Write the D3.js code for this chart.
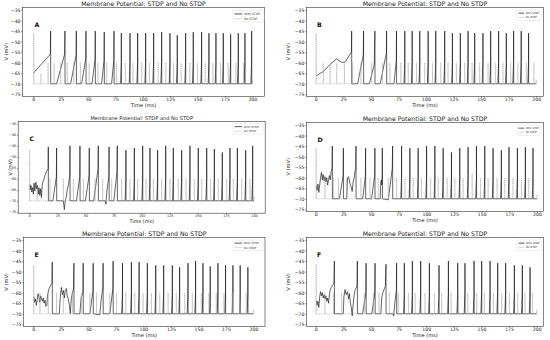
<!DOCTYPE html>
<html><head><meta charset="utf-8">
<script src="https://cdn.jsdelivr.net/npm/d3@7"></script>
<style>body{margin:0;background:#fff}svg{display:block}</style>
</head><body><svg id="c" width="550" height="340"></svg>
<script>
const xTicks = [0,25,50,75,100,125,150,175,200];
const yTicks = [-35,-40,-45,-50,-55,-60,-65,-70,-75];
const panelLetters = ["A","B","C","D","E","F"];
const titleText = "Membrane Potential: STDP and No STDP";
const legendLabels = ["With STDP","No STDP"];
const restV = -70;

// With STDP: [spike time, peak, optional trajectory before the spike]
const stdpA = [
 [15.8,-45,[[0,-65],[15.5,-56]]],[28.9,-45,[[21.3,-70],[28.6,-56]]],[39.3,-45,[[34.1,-70],[39.1,-56.5]]],
 [48.1,-45,[[44.1,-70],[47.9,-58]]],[56.6,-45,[[53.6,-70],[56.4,-58.5]]],[64.8,-45.5,[[62.4,-70],[64.6,-59]]],
 [73.7,-45,[[71.5,-70],[73.5,-59]]],[80.4,-46],[88.3,-46],[95.3,-46],[102.6,-46],[109.9,-46],[117.2,-45.5],
 [124.8,-46],[131.5,-47],[139.1,-46],[146.1,-45.5],[153.7,-45.5],[160.4,-46],[166.8,-46],[173.5,-46],
 [180.2,-46.5],[187.2,-46],[193.3,-46],[199.4,-45]];
const stdpB = [
 [32.6,-45,[[0.3,-66.3],[6.9,-64.2],[13,-60.8],[19,-58.2],[23.5,-59.8],[26.5,-59.8],[32.4,-55]]],
 [43.4,-45,[[38,-70],[43.2,-56.3]]],[53.7,-45,[[48.6,-70],[53.1,-61]]],[64.3,-45,[[58.5,-70],[64.1,-55.5]]],
 [73.3,-45,[[71,-70],[73.1,-59]]],[80.8,-45],[87.5,-45],[94.4,-45],[102,-45],[108.9,-45],[117,-45],
 [124,-46],[131.2,-46],[138.2,-45],[144.2,-46],[151.7,-46],[158.7,-45],[165.9,-45],[172.9,-46],
 [179.5,-45],[186.4,-45],[193.1,-46]];
const stdpC = [
 [16.9,-45.5,[[0.5,-62.5],[1,-65],[1.5,-63],[2.2,-66],[3,-64],[3.6,-67],[4.2,-62],[5,-65.5],[5.8,-61.5],[6.5,-64.5],[7.2,-63],[8,-67],[8.6,-64],[9.4,-67.5],[10.1,-64.5],[10.8,-68.5],[11.5,-63],[12.3,-61],[13.2,-60],[14.2,-58],[15.5,-56.5],[16.8,-55.5]]],
 [24.3,-46,[[21,-70],[24.1,-59]]],
 [36.2,-45,[[30.3,-70],[31.2,-74],[32,-70],[32.8,-68.5],[33.5,-66],[34,-64.5],[34.8,-63],[35.5,-60],[36,-59]]],
 [45.1,-45,[[42,-70],[44.9,-59]]],[53.4,-46,[[50,-70],[53.2,-58.5]]],[61.4,-45,[[57.3,-70],[61.2,-55.5]]],
 [71,-45.5,[[67.5,-70],[68.2,-71.5],[69,-66],[70,-62],[70.8,-59.5]]],[78.3,-45,[[75.3,-70],[78.1,-56.5]]],
 [86,-47],[93.5,-46],[100.9,-45],[107.4,-46],[114.2,-47],[121.4,-45],[128.2,-46],[135.6,-47],[143,-45],
 [150.4,-46],[157.9,-46],[164.7,-46.5],[171.8,-48],[178.6,-46],[185.2,-46],[192.6,-47],[198.8,-45]];
const stdpD = [
 [15,-45,[[0.5,-64],[1.2,-66],[2,-63],[2.8,-67],[3.6,-63.5],[4.4,-60],[5.2,-57.5],[6,-61],[6.8,-58.5],[7.6,-61.5],[8.4,-59.5],[9.2,-62],[10,-60],[10.8,-63.5],[11.6,-61],[12.4,-59],[13.2,-61],[14,-57],[14.8,-55.5]]],
 [25,-46,[[21.5,-70],[24.8,-59]]],
 [36.4,-45,[[28,-70],[28.8,-60],[29.8,-59.5],[30.8,-62.5],[31.8,-64],[33,-66.5],[33.8,-62],[34.8,-60],[35.6,-56.5],[36.2,-56]]],
 [45.1,-46,[[42.5,-70],[44.9,-59]]],[53.5,-46,[[50.5,-70],[53.3,-59]]],
 [60.2,-46,[[58.3,-70],[58.8,-62],[59.4,-61],[59.8,-63.5],[60.1,-61]]],
 [69.5,-45,[[65.6,-70.5],[69.2,-55.5]]],
 [77.6,-45],[85.1,-46],[92.6,-46],[100.2,-45],[107.7,-45],[115.2,-46],[122.7,-48],[130.2,-46],[137.7,-45.5],
 [145.3,-45],[152.8,-45],[160.3,-46],[167.8,-47],[174.7,-45.5],[182.3,-46],[189.5,-45.5],[196.4,-46]];
const stdpE = [
 [17.2,-45.5,[[0.5,-62],[1.2,-64.5],[2,-63],[2.8,-66],[3.5,-63.5],[4.3,-60.5],[5.1,-62],[5.9,-64.5],[6.7,-61.5],[7.5,-63],[8.3,-64],[9,-62.5],[9.8,-65],[10.6,-63.5],[11.4,-66.5],[12.3,-66],[13,-61],[14,-58.5],[15.3,-57],[16.5,-56],[17,-55.5]]],
 [36.9,-46,[[23.6,-70],[24.5,-62],[25.5,-57.5],[26.5,-61],[27.3,-59],[28.2,-62.5],[29,-59],[30,-58],[30.8,-61.5],[31.8,-63],[32.8,-66],[33.6,-70],[34.5,-63],[35.5,-60],[36.5,-58.5]]],
 [45.3,-46,[[42.3,-70],[43.5,-62],[44.5,-61],[45.1,-60]]],[54.4,-46,[[51.4,-70],[54.2,-59]]],
 [63.4,-46,[[60.4,-70.5],[61.5,-64],[62.5,-60],[63.2,-57.5]]],[72.5,-45,[[69.5,-70],[72.3,-58]]],
 [81,-46],[89.1,-45.5],[96.1,-45.5],[103.6,-46],[111.2,-47],[118.4,-47],[126.3,-47],[132.9,-48],[140.5,-46],
 [147.4,-45],[154.1,-46],[160.7,-47.5],[167.7,-46],[174.6,-47],[181.3,-47],[187.9,-47],[194.9,-48]];
const stdpF = [
 [16.9,-45,[[0.5,-64],[1.2,-66],[2,-64],[2.8,-67],[3.6,-62],[4.4,-59.5],[5.2,-61.5],[6,-60],[6.8,-62.5],[7.6,-61],[8.4,-63],[9.2,-61.5],[10,-64],[10.8,-62.5],[11.6,-65],[12.4,-61],[13.2,-58.5],[14.2,-57.5],[15.2,-56.5],[16.5,-55.5]]],
 [37.7,-45,[[25,-70],[25.5,-62],[26.5,-58.5],[27.6,-61],[28.8,-59.5],[29.8,-63],[30.6,-60.5],[31.4,-65],[32.2,-67],[33,-71],[33.8,-66],[34.8,-61],[35.8,-58.5],[37,-57.5],[37.5,-56]]],
 [45.6,-46,[[42.4,-70],[45.4,-60]]],[53.7,-46,[[50.8,-70],[53.5,-60]]],
 [63.6,-46.5,[[59,-70],[59.8,-62],[60.8,-60],[61.8,-58.5],[63,-57]]],
 [73.2,-46,[[70,-70],[70.6,-71],[71.6,-65],[72.5,-61],[73,-59]]],
 [80.2,-46],[87.5,-45],[95,-45],[102.9,-46],[111.6,-47],[120.1,-45],[128.5,-46],[135.1,-46],[143.3,-45],
 [150.2,-45],[157.8,-45],[164.7,-46],[171.9,-46],[179.8,-47],[187,-47],[194,-48]];

// No STDP: [spike time, peak]
const noA = [[0.4,-46],[7,-65],[13.5,-60],[19,-60],[25,-60],[31,-60],[37,-60],[43,-60],[51,-60],[59,-60],[67,-60],
 [76,-60],[84,-60],[91,-60],[99,-60],[106,-60],[114,-60],[121,-60],[128,-60],[135,-60],[143,-60],[150,-60],
 [157,-60],[164,-60],[171,-60],[178,-60],[185,-60],[192,-60],[200,-68]];
const noB = [[0.4,-46],[6.9,-60],[13,-61],[19,-60],[26,-60],[33.5,-60],[41,-60],[50.7,-60],[60.6,-60],[67.3,-60],
 [77.2,-60],[83.9,-60],[91.4,-60],[98.9,-60],[105.9,-60],[113.4,-60],[120,-60],[127.6,-60],[135.1,-60],
 [141.8,-60],[148.7,-60],[156.3,-60],[162.9,-60],[169.8,-60],[176.8,-60],[183.4,-60],[191,-60],[197.9,-60],[200,-68]];
const noC = [[0.3,-47],[7,-65],[18.4,-60],[30.3,-60],[39.2,-60],[48.1,-60],[58.5,-60],[65.3,-60],[73.3,-60],
 [82.2,-60],[89.6,-60],[96.4,-60],[103.9,-60],[110.4,-60],[117.8,-60],[125.2,-60],[132.6,-60],[139.5,-60],
 [146.9,-60],[153.4,-60],[161.4,-60],[168.2,-60],[175.7,-60],[181.6,-60],[189,-60],[196.4,-60],[200,-68]];
const noD = [[0.4,-46],[8.4,-60],[15.9,-60],[20.5,-60],[28,-60],[40.9,-60],[49,-60],[56.5,-60],[65.6,-60],
 [73.1,-60],[80.6,-60],[88.1,-60],[95.6,-60],[103.8,-60],[110.7,-60],[118.8,-60],[125.7,-60],[133.2,-60],
 [141.4,-58],[148.9,-60],[155.8,-60],[163.9,-60],[170.8,-60],[178.3,-60],[185.9,-60],[192.5,-60],[200,-68]];
const noE = [[0.4,-47],[6,-60],[13.6,-60],[21.1,-60],[27.2,-60],[35.6,-60],[43.8,-60],[51.4,-60],[57.4,-60],
 [69.5,-60],[75.5,-60],[84,-60],[92.1,-60],[99.7,-60],[107.3,-60],[114.8,-60],[122.4,-60],[129.9,-60],
 [137.5,-60],[144.4,-60],[152.6,-60],[159.5,-60],[166.2,-60],[173.1,-60],[180.7,-60],[187.3,-60],[193.4,-60],[200,-68]];
const noF = [[0.4,-46.5],[8.4,-60],[16,-60],[23.5,-60],[44,-60],[52.2,-60],[57.3,-60],[66.7,-60],[74.8,-60],
 [83.9,-60],[89.9,-60],[98.9,-60],[107.4,-60],[114,-60],[122.5,-60],[129.1,-60],[137.6,-60],[145.7,-60],
 [152.6,-60],[160.8,-60],[168.3,-60],[175.3,-60],[182.8,-60],[189.4,-60],[196.1,-60],[200,-68]];

const stdpSeries = [stdpA, stdpB, stdpC, stdpD, stdpE, stdpF];
const noSeries = [noA, noB, noC, noD, noE, noF];

// layout (pixels)
const layout = [
 {x0:33.3,x200:252.3,L:22.5,R:264.5,y35:10,y75:94.3,T:7.3,B:96.3,tfs:4.6,lfs:5.1,hfs:6.2,xlabY:106.6,ylabX:6,let:[34.5,27],lg:[233,10.5,31,11.5],lgfs:3},
 {x0:315.7,x200:536.2,L:306.4,R:543.6,y35:10,y75:94.3,T:7.3,B:96.3,tfs:4.6,lfs:5.1,hfs:6.2,xlabY:106.6,ylabX:288,let:[317,26.5],lg:[517,10,24,10.5],lgfs:2.6},
 {x0:29.3,x200:254,L:18.2,R:265.2,y35:123.8,y75:211.8,T:121.5,B:213.2,tfs:3.4,lfs:4.8,hfs:5.1,xlabY:223,ylabX:10.5,let:[29.5,141],lg:[233,123.5,30,10.5],lgfs:2.9},
 {x0:315.7,x200:537,L:306.4,R:543.6,y35:125,y75:209.3,T:122.3,B:211.3,tfs:4.6,lfs:5.1,hfs:6.2,xlabY:221.6,ylabX:288,let:[317.5,141.5],lg:[517,125,24,10.5],lgfs:2.6},
 {x0:33.3,x200:253.5,L:23.5,R:265,y35:240,y75:324.3,T:237.5,B:326.3,tfs:4.6,lfs:5.1,hfs:6.2,xlabY:336.6,ylabX:6,let:[34.5,256.5],lg:[233,240,30,10.5],lgfs:2.9},
 {x0:315.7,x200:536.7,L:306.4,R:543.6,y35:240,y75:324.3,T:237.5,B:326.3,tfs:4.6,lfs:5.1,hfs:6.2,xlabY:336.6,ylabX:287.5,let:[317,256.5],lg:[517,240,25,10.5],lgfs:2.6}
];

const svg = d3.select("#c");
const font = "DejaVu Sans, sans-serif";
const fmt = v => (v < 0 ? "\u2212" + Math.abs(v) : String(v));

function stdpPoints(rows) {
  const pts = [];
  rows.forEach(([t, peak, pre]) => {
    const path = pre || [[t - 0.7, restV], [t - 0.05, -60]];
    pts.push(...path, [t, peak], [t + 0.1, restV]);
  });
  pts.push([200, restV]);
  return pts;
}
function noPoints(rows) {
  const pts = [[0, restV]];
  rows.forEach(([t, peak]) => { pts.push([t, restV], [t, peak], [t + 0.1, restV]); });
  return pts;
}

layout.forEach((p, i) => {
  const x = d3.scaleLinear().domain([0, 200]).range([p.x0, p.x200]);
  const y = d3.scaleLinear().domain([-75, -35]).range([p.y75, p.y35]);
  const g = svg.append("g");
  const line = d3.line().x(d => x(d[0])).y(d => y(d[1]));

  const clipId = "clip" + i;
  g.append("clipPath").attr("id", clipId).append("rect")
    .attr("x", p.L).attr("y", p.T).attr("width", p.R - p.L).attr("height", p.B - p.T);
  const plot = g.append("g").attr("clip-path", `url(#${clipId})`);
  plot.append("path").attr("d", line(stdpPoints(stdpSeries[i])))
    .attr("fill", "none").attr("stroke", "#111").attr("stroke-width", 0.65).attr("stroke-linejoin", "round");
  plot.append("path").attr("d", line(noPoints(noSeries[i])))
    .attr("fill", "none").attr("stroke", "#a8a8a8").attr("stroke-width", 0.6).attr("stroke-dasharray", "1.2,0.7");

  // axes
  const xa = d3.axisBottom(x).tickValues(xTicks).tickSize(1.2).tickPadding(0.6).tickFormat(fmt);
  const ya = d3.axisLeft(y).tickValues(yTicks).tickSize(1.2).tickPadding(0.8).tickFormat(fmt);
  const gx = g.append("g").attr("transform", `translate(0,${p.B})`).call(xa);
  const gy = g.append("g").attr("transform", `translate(${p.L},0)`).call(ya);
  [gx, gy].forEach(a => {
    a.select(".domain").remove();
    a.selectAll("line").attr("stroke", "#333").attr("stroke-width", 0.5);
    a.selectAll("text").attr("font-family", font).attr("font-size", p.tfs).attr("fill", "#222");
  });
  g.append("rect").attr("x", p.L).attr("y", p.T).attr("width", p.R - p.L).attr("height", p.B - p.T)
    .attr("fill", "none").attr("stroke", "#333").attr("stroke-width", 0.6);

  // labels
  const cx = (p.L + p.R) / 2, cy = (p.T + p.B) / 2;
  g.append("text").attr("x", cx).attr("y", p.T - 1.3).attr("text-anchor", "middle")
    .attr("font-family", font).attr("font-size", p.hfs).attr("fill", "#222").text(titleText);
  g.append("text").attr("x", cx).attr("y", p.xlabY).attr("text-anchor", "middle")
    .attr("font-family", font).attr("font-size", p.lfs).attr("fill", "#222").text("Time (ms)");
  g.append("text").attr("transform", `translate(${p.ylabX},${cy}) rotate(-90)`).attr("text-anchor", "middle")
    .attr("dominant-baseline", "central")
    .attr("font-family", font).attr("font-size", p.lfs).attr("fill", "#222").text("V (mV)");
  g.append("text").attr("x", p.let[0]).attr("y", p.let[1]).attr("font-family", font)
    .attr("font-size", 6.2).attr("font-weight", "bold").attr("fill", "#111").text(panelLetters[i]);

  // legend
  const [lx, ly, lw, lh] = p.lg;
  const lg = g.append("g");
  lg.append("rect").attr("x", lx).attr("y", ly).attr("width", lw).attr("height", lh).attr("rx", 0.8)
    .attr("fill", "#fff").attr("fill-opacity", 0.8).attr("stroke", "#d6d6d6").attr("stroke-width", 0.4);
  legendLabels.forEach((lab, k) => {
    const yy = ly + lh * (0.3 + 0.42 * k);
    lg.append("line").attr("x1", lx + 1.5).attr("x2", lx + lw * 0.3).attr("y1", yy).attr("y2", yy)
      .attr("stroke", k === 0 ? "#111" : "#a8a8a8").attr("stroke-width", k === 0 ? 0.7 : 0.6)
      .attr("stroke-dasharray", k === 0 ? null : "1,0.6");
    lg.append("text").attr("x", lx + lw * 0.36).attr("y", yy).attr("dominant-baseline", "central")
      .attr("font-family", font).attr("font-size", p.lgfs).attr("fill", "#333").text(lab);
  });
});
</script>
</body></html>
